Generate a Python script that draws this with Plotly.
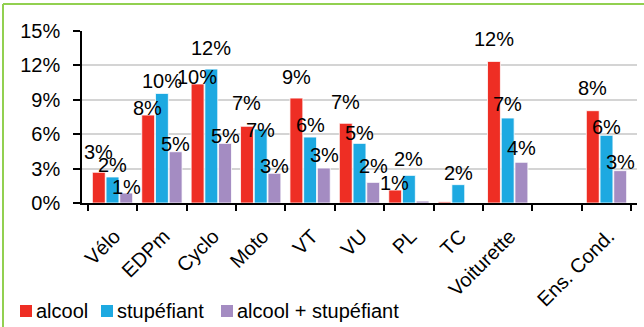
import plotly.graph_objects as go

categories = ["Vélo", "EDPm", "Cyclo", "Moto", "VT", "VU", "PL", "TC", "Voiturette", " ", "Ens. Cond."]
alcool = [0.0268, 0.0767, 0.1038, 0.0669, 0.0915, 0.0695, 0.0113, 0.0010, 0.1235, None, 0.0805]
stupefiant = [0.0227, 0.0956, 0.1168, 0.0645, 0.0575, 0.0520, 0.0241, 0.0160, 0.0741, None, 0.0590]
alcool_stup = [0.0087, 0.0447, 0.0520, 0.0259, 0.0305, 0.0180, 0.0017, None, 0.0355, None, 0.0282]
alcool_lbl = ["3%", "8%", "10%", "7%", "9%", "7%", "1%", "", "12%", "", "8%"]
stup_lbl = ["2%", "10%", "12%", "7%", "6%", "5%", "2%", "2%", "7%", "", "6%"]
alcool_stup_lbl = ["1%", "5%", "5%", "3%", "3%", "2%", "", "", "4%", "", "3%"]
y_ticks = [0, 0.03, 0.06, 0.09, 0.12, 0.15]

# ---- styling / layout (pixels) ----
FONT = "Liberation Sans, Arial, sans-serif"
FS = 20
W, H = 644, 327
ML, MR, MT, MB = 82, 7, 31, 124
PW, PH = W - ML - MR, H - MT - MB
BARGAP, BARGROUPGAP = 0.167, 0.06
# vertical lift of each data label above its bar top (px), as placed in the source chart
alcool_raise = [20, 7, 7, 23, 21, 21, 7, 0, 22, 0, 23]
stup_raise = [12, 12, 21, -1, 12, 10, 16, 12, 14, 0, 8]
alcool_stup_raise = [6, 8, 7, 7, 13, 16, 0, 0, 14, 0, 9]

series = [
    ("alcool", alcool, alcool_lbl, alcool_raise, "#EE2E24"),
    ("stupéfiant", stupefiant, stup_lbl, stup_raise, "#1DA9E1"),
    ("alcool + stupéfiant", alcool_stup, alcool_stup_lbl, alcool_stup_raise, "#A48CC2"),
]

def px_to_paper_x(px):
    return (px - ML) / PW

def px_to_paper_y(py):
    return (H - MB - py) / PH

fig = go.Figure()
cat_w = PW / len(categories)
slot = cat_w * (1 - BARGAP) / len(series)
for i, (name, vals, lbls, raises, col) in enumerate(series):
    fig.add_trace(go.Bar(
        x=categories, y=vals, name=name, showlegend=False,
        marker=dict(color=col, line=dict(color="white", width=0.8)),
    ))
    xshift = (i - 1) * slot
    for c, v, t, r in zip(categories, vals, lbls, raises):
        if v is None or not t:
            continue
        fig.add_annotation(x=c, y=v, xref="x", yref="y", text=t, showarrow=False,
                           xshift=xshift, yshift=r, yanchor="middle", xanchor="center",
                           font=dict(family=FONT, size=FS, color="black"))

fig.update_layout(
    width=W, height=H,
    margin=dict(l=ML, r=MR, t=MT, b=MB, autoexpand=False),
    paper_bgcolor="white", plot_bgcolor="white",
    barmode="group", bargap=BARGAP, bargroupgap=BARGROUPGAP,
    font=dict(family=FONT, size=FS, color="black"),
    showlegend=False,
)
fig.update_yaxes(range=[0, 0.15], tickvals=y_ticks, tickformat=".0%", automargin=False,
                 showgrid=True, gridcolor="#D4D4D4", gridwidth=1.5,
                 showline=True, linecolor="black", linewidth=1.5,
                 ticks="outside", ticklen=7, tickcolor="black", tickwidth=1.5,
                 tickfont=dict(family=FONT, size=FS), zeroline=False, ticklabelstandoff=9)
fig.update_xaxes(type="category", showline=True, linecolor="black", linewidth=1.5, automargin=False,
                 ticks="outside", tickson="boundaries", ticklen=6, tickcolor="black",
                 tickwidth=1.5, tickangle=-45, tickfont=dict(family=FONT, size=FS),
                 ticklabelshift=2, ticklabelstandoff=12)

# manual legend (compact, as in the source)
legend_x = [20, 101, 221]
for (name, _, _, _, col), lx in zip(series, legend_x):
    fig.add_shape(type="rect", xref="paper", yref="paper",
                  x0=px_to_paper_x(lx), x1=px_to_paper_x(lx + 12),
                  y0=px_to_paper_y(317), y1=px_to_paper_y(305),
                  fillcolor=col, line=dict(width=0))
    fig.add_annotation(xref="paper", yref="paper", x=px_to_paper_x(lx + 14), y=px_to_paper_y(311),
                       xanchor="left", yanchor="middle", text=name, showarrow=False,
                       font=dict(family=FONT, size=FS, color="black"))

# green frame (top and left edges visible)
fig.add_shape(type="line", xref="paper", yref="paper", x0=px_to_paper_x(3), x1=px_to_paper_x(660),
              y0=px_to_paper_y(4), y1=px_to_paper_y(4), line=dict(color="#92D050", width=2))
fig.add_shape(type="line", xref="paper", yref="paper", x0=px_to_paper_x(3), x1=px_to_paper_x(3),
              y0=px_to_paper_y(4), y1=px_to_paper_y(340), line=dict(color="#92D050", width=2))

fig.write_html("out.html", config={"displayModeBar": False},
               post_script="document.body.style.margin='0px';document.body.style.overflow='hidden';")
